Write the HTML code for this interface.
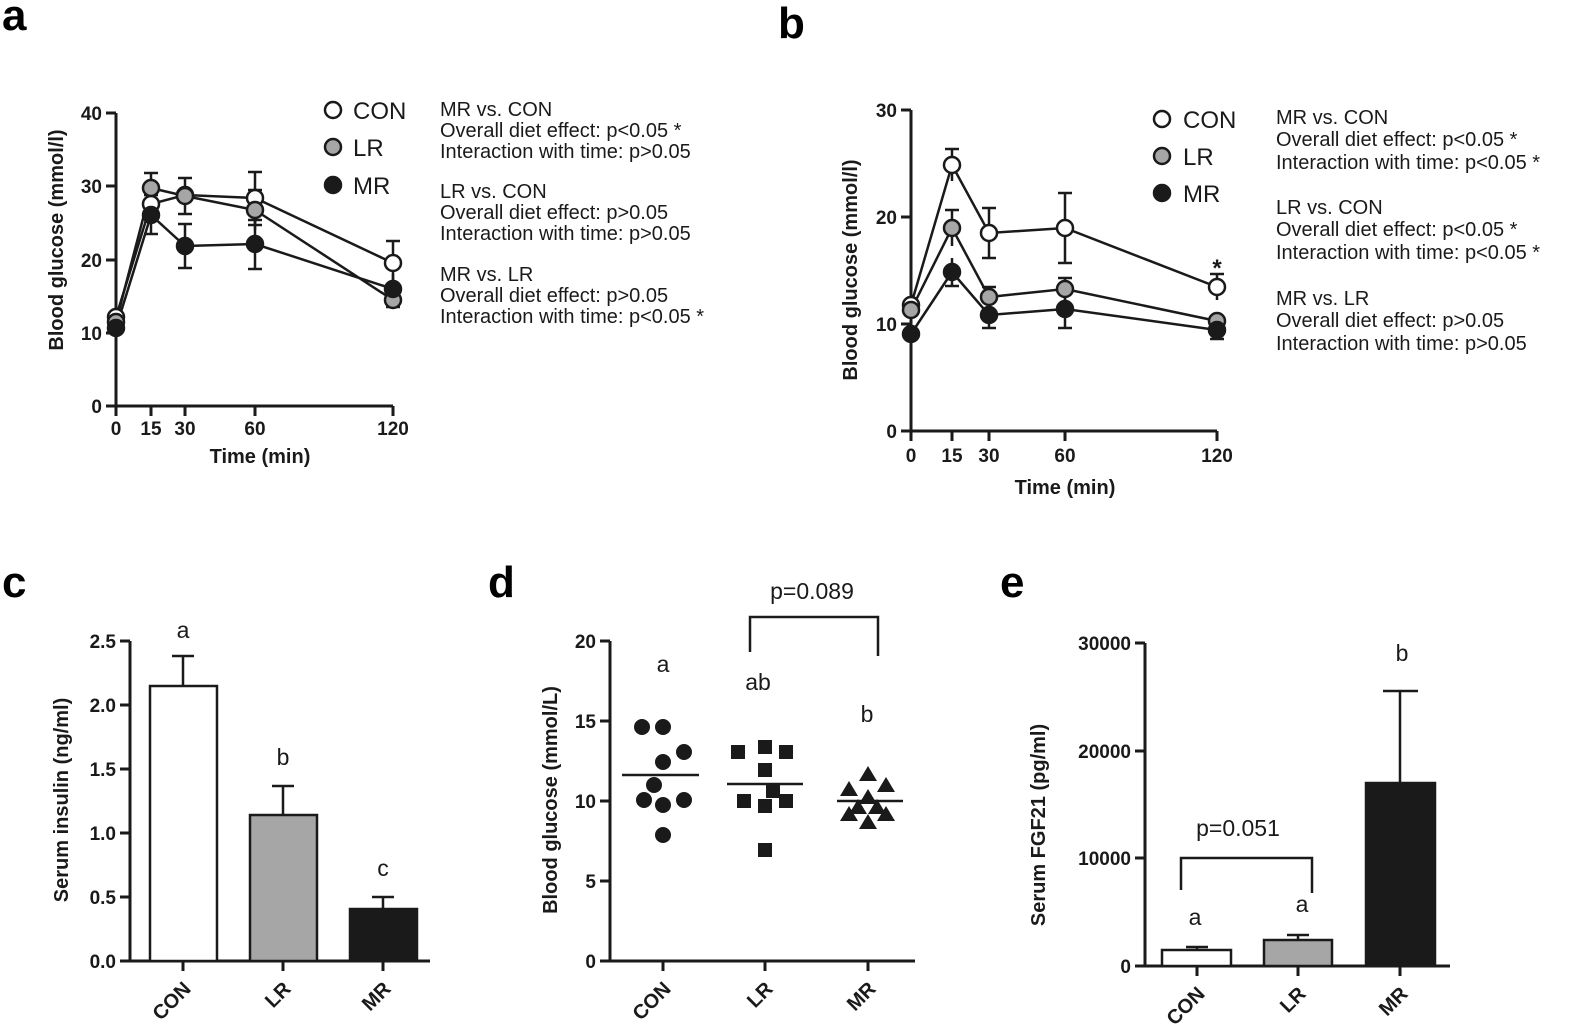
<!DOCTYPE html>
<html><head><style>body{margin:0;background:#fff}svg{display:block}</style></head><body>
<svg width="1575" height="1030" xmlns="http://www.w3.org/2000/svg" font-family="Liberation Sans, Arial, sans-serif">
<g font-weight="bold" font-size="44"><text x="2" y="30">a</text><text x="778" y="38">b</text><text x="2" y="597">c</text><text x="488" y="597">d</text><text x="1000" y="597">e</text></g>
<g stroke="#1a1a1a" stroke-width="3" fill="none">
<!-- panel a axes -->
<path d="M116 113V406M106 113H116M106 186H116M106 260H116M106 333H116M106 406H116M113 406H393M116 406v10M151 406v10M185 406v10M255 406v10M393 406v10"/>
<!-- panel b axes -->
<path d="M911 110V431M901 110H911M901 217H911M901 324H911M901 431H911M908 431H1217M911 431v10M952 431v10M989 431v10M1065 431v10M1217 431v10"/>
<!-- c -->
<path d="M130 641V961M120 641H130M120 705H130M120 769H130M120 833H130M120 897H130M120 961H130M127 961H430M183 961v10M283 961v10M383 961v10"/>
<!-- d -->
<path d="M610 641V961M600 641H610M600 721H610M600 801H610M600 881H610M600 961H610M607 961H915M663 961v10M765 961v10M868 961v10"/>
<!-- e -->
<path d="M1145 643V966M1135 643H1145M1135 751H1145M1135 858H1145M1135 966H1145M1142 966H1450M1197 966v10M1298 966v10M1400 966v10"/>
</g>
<g font-weight="bold" font-size="19" fill="#1a1a1a" text-anchor="end">
<text x="102" y="120">40</text><text x="102" y="193">30</text><text x="102" y="267">20</text><text x="102" y="340">10</text><text x="102" y="413">0</text>
<text x="897" y="117">30</text><text x="897" y="224">20</text><text x="897" y="331">10</text><text x="897" y="438">0</text>
<text x="116" y="648">2.5</text><text x="116" y="712">2.0</text><text x="116" y="776">1.5</text><text x="116" y="840">1.0</text><text x="116" y="904">0.5</text><text x="116" y="968">0.0</text>
<text x="596" y="648">20</text><text x="596" y="728">15</text><text x="596" y="808">10</text><text x="596" y="888">5</text><text x="596" y="968">0</text>
<text x="1131" y="650">30000</text><text x="1131" y="758">20000</text><text x="1131" y="865">10000</text><text x="1131" y="973">0</text>
</g>
<g font-weight="bold" font-size="19" fill="#1a1a1a" text-anchor="middle">
<text x="116" y="435">0</text><text x="151" y="435">15</text><text x="185" y="435">30</text><text x="255" y="435">60</text><text x="393" y="435">120</text>
<text x="911" y="462">0</text><text x="952" y="462">15</text><text x="989" y="462">30</text><text x="1065" y="462">60</text><text x="1217" y="462">120</text>
<text x="260" y="463" font-size="20">Time (min)</text><text x="1065" y="494" font-size="20">Time (min)</text>
<text transform="translate(63 240) rotate(-90)" font-size="20">Blood glucose (mmol/l)</text>
<text transform="translate(857 270) rotate(-90)" font-size="20">Blood glucose (mmol/l)</text>
<text transform="translate(68 800) rotate(-90)" font-size="20">Serum insulin (ng/ml)</text>
<text transform="translate(557 800) rotate(-90)" font-size="20">Blood glucose (mmol/L)</text>
<text transform="translate(1045 825) rotate(-90)" font-size="20">Serum FGF21 (pg/ml)</text>
</g>
<g font-weight="bold" font-size="20" fill="#1a1a1a" text-anchor="end">
<text transform="translate(192 990) rotate(-45)">CON</text><text transform="translate(292 990) rotate(-45)">LR</text><text transform="translate(392 990) rotate(-45)">MR</text>
<text transform="translate(672 990) rotate(-45)">CON</text><text transform="translate(774 990) rotate(-45)">LR</text><text transform="translate(877 990) rotate(-45)">MR</text>
<text transform="translate(1206 995) rotate(-45)">CON</text><text transform="translate(1307 995) rotate(-45)">LR</text><text transform="translate(1409 995) rotate(-45)">MR</text>
</g>
<!-- panel a data -->
<g stroke="#1a1a1a" stroke-width="2.5" fill="none">
<path d="M151 195v17M144 195h14M144 212h14M255 172v53M248 172h14M248 225h14M393 241v44M386 241h14M386 285h14"/>
<path d="M151 173v30M144 173h14M185 178v36M178 178h14M178 214h14M255 190v40M248 190h14M393 290v17M386 307h14"/>
<path d="M151 196v38M144 234h14M185 224v44M178 224h14M178 268h14M255 220v49M248 220h14M248 269h14M393 274v25"/>
<polyline points="116,317 151,204 185,195 255,198 393,263"/>
<polyline points="116,322 151,188 185,196 255,210 393,300"/>
<polyline points="116,328 151,215 185,246 255,244 393,289"/>
</g>
<g stroke="#1a1a1a" stroke-width="2.5">
<circle cx="116" cy="317" r="8" fill="#fff"/><circle cx="151" cy="204" r="8" fill="#fff"/><circle cx="185" cy="195" r="8" fill="#fff"/><circle cx="255" cy="198" r="8" fill="#fff"/><circle cx="393" cy="263" r="8" fill="#fff"/>
<circle cx="116" cy="322" r="8" fill="#a6a6a6"/><circle cx="151" cy="188" r="8" fill="#a6a6a6"/><circle cx="185" cy="196" r="8" fill="#a6a6a6"/><circle cx="255" cy="210" r="8" fill="#a6a6a6"/><circle cx="393" cy="300" r="8" fill="#a6a6a6"/>
<circle cx="116" cy="328" r="8" fill="#1a1a1a"/><circle cx="151" cy="215" r="8" fill="#1a1a1a"/><circle cx="185" cy="246" r="8" fill="#1a1a1a"/><circle cx="255" cy="244" r="8" fill="#1a1a1a"/><circle cx="393" cy="289" r="8" fill="#1a1a1a"/>
<circle cx="333" cy="110" r="8" fill="#fff"/><circle cx="333" cy="147" r="8" fill="#a6a6a6"/><circle cx="333" cy="185" r="8" fill="#1a1a1a"/>
</g>
<!-- panel b data -->
<g stroke="#1a1a1a" stroke-width="2.5" fill="none">
<path d="M952 149v32M945 149h14M989 208v50M982 208h14M982 258h14M1065 193v70M1058 193h14M1058 263h14M1217 274v26M1210 274h14"/>
<path d="M952 210v36M945 210h14M989 287v20M982 287h14M1065 278v22M1058 278h14M1217 316v10"/>
<path d="M952 258v28M945 286h14M989 302v26M982 328h14M1065 290v38M1058 328h14M1217 321v18M1210 339h14"/>
<polyline points="911,305 952,165 989,233 1065,228 1217,287"/>
<polyline points="911,310 952,228 989,297 1065,289 1217,321"/>
<polyline points="911,334 952,272 989,315 1065,309 1217,330"/>
</g>
<g stroke="#1a1a1a" stroke-width="2.5">
<circle cx="911" cy="305" r="8" fill="#fff"/><circle cx="952" cy="165" r="8" fill="#fff"/><circle cx="989" cy="233" r="8" fill="#fff"/><circle cx="1065" cy="228" r="8" fill="#fff"/><circle cx="1217" cy="287" r="8" fill="#fff"/>
<circle cx="911" cy="310" r="8" fill="#a6a6a6"/><circle cx="952" cy="228" r="8" fill="#a6a6a6"/><circle cx="989" cy="297" r="8" fill="#a6a6a6"/><circle cx="1065" cy="289" r="8" fill="#a6a6a6"/><circle cx="1217" cy="321" r="8" fill="#a6a6a6"/>
<circle cx="911" cy="334" r="8" fill="#1a1a1a"/><circle cx="952" cy="272" r="8" fill="#1a1a1a"/><circle cx="989" cy="315" r="8" fill="#1a1a1a"/><circle cx="1065" cy="309" r="8" fill="#1a1a1a"/><circle cx="1217" cy="330" r="8" fill="#1a1a1a"/>
<circle cx="1162" cy="119" r="8" fill="#fff"/><circle cx="1162" cy="156" r="8" fill="#a6a6a6"/><circle cx="1162" cy="193" r="8" fill="#1a1a1a"/>
</g>
<g font-size="24" fill="#1a1a1a"><text x="353" y="119">CON</text><text x="353" y="156">LR</text><text x="353" y="194">MR</text>
<text x="1183" y="128">CON</text><text x="1183" y="165">LR</text><text x="1183" y="202">MR</text>
<text x="1217" y="276" font-weight="bold" text-anchor="middle">*</text></g>
<g font-size="20" fill="#1a1a1a">
<text x="440" y="116">MR vs. CON</text><text x="440" y="137">Overall diet effect: p&lt;0.05 *</text><text x="440" y="158">Interaction with time: p&gt;0.05</text>
<text x="440" y="198">LR vs. CON</text><text x="440" y="219">Overall diet effect: p&gt;0.05</text><text x="440" y="240">Interaction with time: p&gt;0.05</text>
<text x="440" y="281">MR vs. LR</text><text x="440" y="302">Overall diet effect: p&gt;0.05</text><text x="440" y="323">Interaction with time: p&lt;0.05 *</text>
<text x="1276" y="124">MR vs. CON</text><text x="1276" y="146">Overall diet effect: p&lt;0.05 *</text><text x="1276" y="169">Interaction with time: p&lt;0.05 *</text>
<text x="1276" y="214">LR vs. CON</text><text x="1276" y="236">Overall diet effect: p&lt;0.05 *</text><text x="1276" y="259">Interaction with time: p&lt;0.05 *</text>
<text x="1276" y="305">MR vs. LR</text><text x="1276" y="327">Overall diet effect: p&gt;0.05</text><text x="1276" y="350">Interaction with time: p&gt;0.05</text>
</g>
<!-- panel c bars -->
<g stroke="#1a1a1a" stroke-width="2.5">
<path d="M183 686V656M172 656H194M283 815V786M272 786H294M383 909V897M372 897H394" fill="none"/>
<rect x="150" y="686" width="67" height="275" fill="#fff"/>
<rect x="250" y="815" width="67" height="146" fill="#a6a6a6"/>
<rect x="350" y="909" width="67" height="52" fill="#1a1a1a"/>
</g>
<g font-size="23" fill="#1a1a1a" text-anchor="middle">
<text x="183" y="638">a</text><text x="283" y="765">b</text><text x="383" y="876">c</text>
<text x="663" y="672">a</text><text x="758" y="690">ab</text><text x="867" y="722">b</text><text x="812" y="599">p=0.089</text>
<text x="1195" y="925">a</text><text x="1302" y="912">a</text><text x="1402" y="661">b</text><text x="1238" y="836">p=0.051</text>
</g>
<!-- panel d points -->
<g fill="#1a1a1a">
<circle cx="642" cy="727" r="8"/><circle cx="663" cy="727" r="8"/><circle cx="684" cy="752" r="8"/><circle cx="663" cy="762" r="8"/><circle cx="654" cy="785" r="8"/><circle cx="644" cy="800" r="8"/><circle cx="663" cy="805" r="8"/><circle cx="684" cy="800" r="8"/><circle cx="663" cy="835" r="8"/>
<rect x="731" y="745" width="14" height="14"/><rect x="758" y="740" width="14" height="14"/><rect x="779" y="745" width="14" height="14"/><rect x="758" y="763" width="14" height="14"/><rect x="766" y="784" width="14" height="14"/><rect x="737" y="794" width="14" height="14"/><rect x="758" y="799" width="14" height="14"/><rect x="779" y="794" width="14" height="14"/><rect x="758" y="843" width="14" height="14"/>
<path d="M868 766l9 15h-18zM886 777l9 15h-18zM849 781l9 15h-18zM868 789l9 15h-18zM858 799l9 15h-18zM877 799l9 15h-18zM849 806l9 15h-18zM868 814l9 15h-18zM886 806l9 15h-18z"/>
</g>
<g stroke="#1a1a1a" stroke-width="2.5" fill="none">
<path d="M622 775H699M727 784H803M837 801H903M750 652V617H878V656"/>
<path d="M1181 890V858H1312V893"/>
<path d="M1197 950V947M1186 947H1208M1298 940V935M1287 935H1309M1400 783V691M1383 691H1418"/>
</g>
<g stroke="#1a1a1a" stroke-width="2.5">
<rect x="1162" y="950" width="69" height="16" fill="#fff"/>
<rect x="1264" y="940" width="68" height="26" fill="#a6a6a6"/>
<rect x="1366" y="783" width="69" height="183" fill="#1a1a1a"/>
</g>
</svg>
</body></html>
